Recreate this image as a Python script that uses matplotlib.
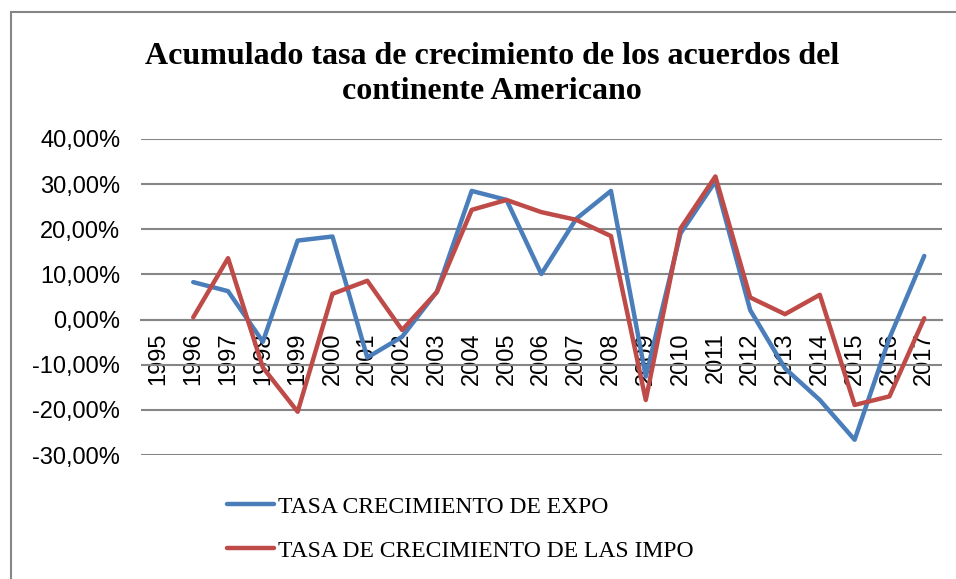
import matplotlib.pyplot as plt
from matplotlib.patches import Rectangle
from matplotlib.ticker import FuncFormatter

years = [str(y) for y in range(1995, 2018)]
expo = [None, 8.3, 6.3, -4.9, 17.5, 18.4, -8.4, -3.8, 6.2, 28.5, 26.5, 10.1,
        22.3, 28.5, -12.6, 19.1, 30.6, 2.1, -10.8, -17.8, -26.6, -4.1, 14.1]
impo = [None, 0.5, 13.6, -10.6, -20.4, 5.7, 8.6, -2.3, 6.1, 24.3, 26.5, 23.8,
        22.1, 18.5, -17.8, 20.2, 31.7, 4.9, 1.2, 5.5, -18.9, -17.0, 0.3]
labels = ['TASA CRECIMIENTO DE EXPO', 'TASA DE CRECIMIENTO DE LAS IMPO']

fig = plt.figure(figsize=(9.56, 5.79), dpi=100)
ax = fig.add_axes([0.1475, 0.214, 0.8375, 0.546])

x = list(range(len(years)))
xs_e = [i for i, v in zip(x, expo) if v is not None]
ys_e = [v for v in expo if v is not None]
xs_i = [i for i, v in zip(x, impo) if v is not None]
ys_i = [v for v in impo if v is not None]
l1, = ax.plot(xs_e, ys_e, color='#4A7EBB', lw=3.2, solid_joinstyle='round',
              solid_capstyle='round', zorder=3)
l2, = ax.plot(xs_i, ys_i, color='#BE4B48', lw=3.2, solid_joinstyle='round',
              solid_capstyle='round', zorder=4)

ax.set_xlim(-0.5, len(years) - 0.5)
ax.set_ylim(-30, 40)
ax.set_yticks(range(-30, 41, 10))
ax.yaxis.set_major_formatter(FuncFormatter(lambda v, p: f'{v:.2f}%'.replace('.', ',')))
ax.grid(axis='y', color='#868686', lw=1.5)
ax.set_axisbelow(True)
for s in ax.spines.values():
    s.set_visible(False)
ax.spines['bottom'].set_visible(True)
ax.spines['bottom'].set_position(('data', 0))
ax.spines['bottom'].set_color('#868686')
ax.spines['bottom'].set_linewidth(1.5)
ax.set_xticks(x)
ax.set_xticklabels(years, rotation=90, fontsize=17, family='Liberation Sans')
ax.tick_params(axis='x', length=0, pad=9)
ax.tick_params(axis='y', length=0, pad=15, labelsize=17)
for t in ax.get_yticklabels():
    t.set_family('Liberation Sans')

fig.text(0.515, 0.872, 'Acumulado tasa de crecimiento de los acuerdos del\ncontinente Americano',
         ha='center', va='center', fontsize=23, fontweight='bold',
         family='Liberation Serif', linespacing=1.25)

fig.legend([l1, l2], labels, loc='upper left', bbox_to_anchor=(0.215, 0.18),
           frameon=False, prop={'family': 'Liberation Serif', 'size': 17},
           handlelength=2.0, handletextpad=0.15, labelspacing=0.95)

fig.patches.append(Rectangle((11 / 956, -0.1), 1.2, 1 - 11.5 / 579 + 0.1,
                             transform=fig.transFigure, fill=False,
                             edgecolor='#868686', lw=1.5))

fig.savefig('out.png', dpi=100)
